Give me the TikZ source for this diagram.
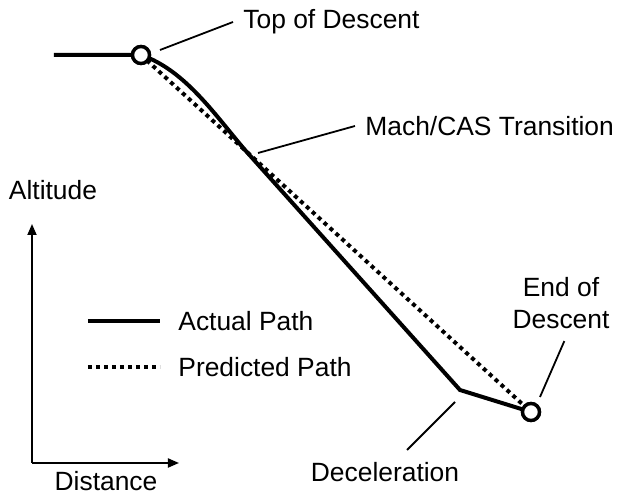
\documentclass[tikz,border=0pt]{standalone}
\usepackage{fontspec}
\setmainfont{Liberation Sans}
\usepackage{tikz}
\usetikzlibrary{arrows.meta,%
                positioning}

\tikzset{
  flightpath/.style={line width=2pt},
  predpath/.style={line width=2pt,dash pattern=on 2pt off 2pt},
  leader/.style={line width=0.9pt},
  axisline/.style={line width=0.9pt,-{Triangle[width=4.5pt,length=5.5pt]}},
  fixpoint/.style={circle,draw,fill=white,line width=1.7pt,minimum size=8.5pt,inner sep=0pt},
  lbl/.style={font=\fontsize{13.2}{16}\selectfont,inner sep=0pt}
}

\begin{document}
\begin{tikzpicture}[x=0.5pt,y=-0.5pt]

      \useasboundingbox (0,0) rectangle (618,496);

      % fixes and path points
      \coordinate (level) at (54,55);
      \coordinate (mach) at (245,150);
      \coordinate (dec) at (460,390);
      \node[fixpoint] (tod) at (141,55) {};
      \node[fixpoint] (eod) at (531,412) {};

      % actual and predicted descent
      \draw[flightpath] (level) -- (tod.center) .. controls (185,70) and (215,115) .. (mach) -- (dec) -- (eod.center);
      \draw[predpath] (tod.center) -- (eod.center);
      \node[fixpoint] at (tod) {};
      \node[fixpoint] at (eod) {};

      % labels
      \node[lbl,anchor=west,inner xsep=5pt] (todlbl) at (233,22) {Top of Descent};
      \node[lbl,anchor=west,inner xsep=5pt] (machlbl) at (355,126) {Mach/CAS Transition};
      \node[lbl,inner ysep=6pt] (declbl) at (385,472) {Deceleration};
      \node[lbl,align=center,inner ysep=6pt] (eodlbl) at (561,303) {End of\\Descent};

      \coordinate (todtip) at (160,50);
      \coordinate (machtip) at (258,153);
      \coordinate (dectip) at (455,402);
      \coordinate (eodtip) at (540,397);

      \draw[leader] (todtip) -- (todlbl.west);
      \draw[leader] (machtip) -- (machlbl.west);
      \draw[leader] (dectip) -- (declbl.45);
      \draw[leader] (eodtip) -- (eodlbl.-85);

      % axes
      \coordinate (origin) at (32,463);
      \node[lbl] (alt) at (53,190) {Altitude};
      \node[lbl] (dist) at (106,481) {Distance};
      \draw[axisline] (origin) -- (32,224);
      \draw[axisline] (origin) -- (179,463);

      % legend
      \node[lbl,anchor=west] (actual) at (178,321) {Actual Path};
      \node[lbl,anchor=west] (pred) at (178,367) {Predicted Path};
      \draw[flightpath] ([xshift=-45pt]actual.west) -- ([xshift=-9pt]actual.west);
      \draw[predpath] ([xshift=-45pt]pred.west) -- ([xshift=-9pt]pred.west);

\end{tikzpicture}
\end{document}
